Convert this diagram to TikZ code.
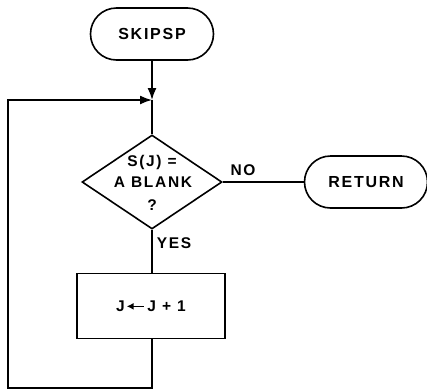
\documentclass[tikz,border=0pt]{standalone}
\usepackage{fontspec}
\setmainfont{Liberation Sans}[LetterSpace=11]
\usetikzlibrary{shapes.misc,shapes.geometric,arrows.meta}
\newcommand{\asgarrow}{\tikz[baseline=-0.6ex]\draw[line width=1.6pt,{Latex[length=7pt,width=7pt]}-] (0,0) -- (17pt,0);}
\begin{document}
\begin{tikzpicture}[x=1pt,y=-1pt,line width=1.6pt,
  term/.style={draw,rounded rectangle,minimum width=123pt,minimum height=52pt,inner sep=0pt,font=\fontsize{16}{18}\selectfont\bfseries},
  proc/.style={draw,rectangle,minimum width=148pt,minimum height=65pt,inner sep=0pt,font=\fontsize{15.5}{17}\selectfont\bfseries},
  dec/.style={draw,diamond,minimum width=140pt,minimum height=94pt,inner sep=0pt},
  lbl/.style={font=\fontsize{15.5}{17}\selectfont\bfseries,inner sep=0pt},
  flow/.style={-{Latex[length=12pt,width=9pt]}}]
\useasboundingbox (0,0) rectangle (427,389);
\node[term] (start) at (152,34) {SKIPSP};
\coordinate (merge) at (152,100);
\node[dec] (dec) at (152,182) {};
\node[lbl] (t1) at (152,162) {S(J) =};
\node[lbl] (t2) at (153,182) {A BLANK};
\node[lbl] (t3) at (152,205) {?};
\node[term] (ret) at (366,182) {RETURN};
\node[proc] (box) at (151,306) {J\hspace{1pt}\asgarrow\hspace{3pt}J + 1};
\node[lbl] (no) at (243,170) {NO};
\node[lbl] (yes) at (174,243) {YES};
\coordinate (c1) at (152,388);
\coordinate (c2) at (8,388);
\coordinate (c3) at (8,100);
\draw[flow] (start) -- (merge);
\draw (merge) -- (dec.north);
\draw (dec.east) -- (ret.west);
\draw (dec.south) -- (box.north -| dec.south);
\draw[flow] (box.south -| c1) -- (c1) -- (c2) -- (c3) -- (merge);
\end{tikzpicture}
\end{document}
